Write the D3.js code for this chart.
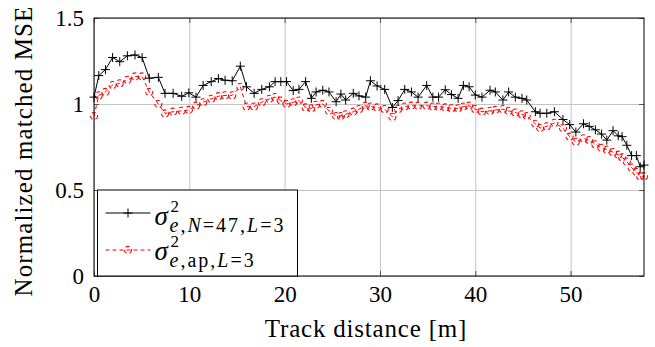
<!DOCTYPE html>
<html>
<head>
<meta charset="utf-8">
<script src="https://cdn.jsdelivr.net/npm/d3@7"></script>
<style>
  body { margin: 0; }
  #mseFig text, #mseFig tspan { font-family: 'Liberation Serif' !important; }
</style>
</head>
<body>
<svg id="mseFig" width="655" height="347"></svg>
<script>
// track positions (m)
var trackX = [0.0, 0.5, 1.2, 1.95, 2.7, 3.5, 4.3, 5.05, 5.8, 6.75, 7.45, 8.3, 9.2, 9.95,
  10.7, 11.45, 12.3, 13.05, 13.75, 14.5, 15.35, 16.0, 16.8, 17.6, 18.4, 19.0, 19.6, 20.2,
  20.9, 21.5, 22.2, 22.8, 23.3, 24.0, 24.65, 25.4, 25.9, 26.4, 27.2, 27.8, 28.5, 29.0,
  29.7, 30.5, 31.3, 31.9, 32.6, 33.3, 34.0, 34.9, 35.55, 36.15, 36.85, 37.5, 38.2, 38.75,
  39.35, 40.0, 40.7, 41.55, 42.1, 42.9, 43.5, 44.2, 44.9, 45.4, 46.3, 46.8, 47.5, 48.3,
  49.2, 49.9, 50.55, 51.35, 51.95, 52.6, 53.25, 53.8, 54.45, 55.0, 55.4, 55.9, 56.4,
  56.9, 57.3, 57.7];

// sigma^2_{e,N=47,L=3}
var mseN47 = [1.04, 1.165, 1.20, 1.27, 1.246, 1.28, 1.285, 1.27, 1.15, 1.155, 1.062, 1.062, 1.045, 1.065,
  1.04, 1.108, 1.13, 1.148, 1.138, 1.135, 1.22, 1.10, 1.062, 1.085, 1.10, 1.13, 1.13, 1.13,
  1.078, 1.085, 1.13, 1.033, 1.07, 1.08, 1.07, 1.013, 1.058, 1.023, 1.062, 1.047, 1.04, 1.135,
  1.105, 1.085, 0.98, 1.02, 1.085, 1.07, 1.04, 1.108, 1.04, 1.04, 1.083, 1.055, 1.033, 1.108,
  1.10, 1.052, 1.04, 1.08, 1.07, 1.023, 1.07, 1.04, 1.033, 1.023, 0.955, 0.946, 0.946, 0.955,
  0.91, 0.88, 0.837, 0.885, 0.87, 0.85, 0.825, 0.79, 0.845, 0.815, 0.81, 0.76, 0.70,
  0.70, 0.635, 0.645];

// sigma^2_{e,ap,L=3}
var mseAp = [0.93, 1.05, 1.07, 1.11, 1.12, 1.14, 1.16, 1.16, 1.07, 1.0, 0.945, 0.955, 0.96, 0.965,
  0.99, 1.01, 1.03, 1.045, 1.05, 1.05, 1.10, 0.985, 0.985, 1.01, 1.03, 1.04, 1.02, 1.0,
  1.01, 1.02, 0.98, 0.975, 0.995, 1.0, 0.96, 0.93, 0.93, 0.94, 0.955, 0.97, 0.99, 0.985,
  0.98, 0.97, 0.925, 0.97, 0.985, 0.99, 0.99, 0.99, 0.985, 0.985, 0.98, 0.975, 0.975, 0.985,
  0.99, 0.97, 0.955, 0.96, 0.965, 0.97, 0.96, 0.95, 0.94, 0.93, 0.885, 0.86, 0.87, 0.89,
  0.86, 0.81, 0.78, 0.80, 0.79, 0.765, 0.745, 0.735, 0.72, 0.705, 0.69, 0.665, 0.63,
  0.605, 0.58, 0.58];

var xTicks = [0, 10, 20, 30, 40, 50];
var yTicks = [0, 0.5, 1, 1.5];

var FONT = "'Liberation Serif'";

var svg = d3.select('#mseFig').attr('font-family', FONT);
var margin = {top: 18, right: 11, bottom: 71, left: 94};
var W = 655 - margin.left - margin.right;
var H = 347 - margin.top - margin.bottom;

var x = d3.scaleLinear().domain([0, 57.7]).range([0, W]);
var y = d3.scaleLinear().domain([0, 1.5]).range([H, 0]);

var g = svg.append('g').attr('transform', 'translate(' + margin.left + ',' + margin.top + ')');

// grid
g.append('g').attr('transform', 'translate(0,' + H + ')')
  .call(d3.axisBottom(x).tickValues(xTicks).tickSize(-H).tickFormat(''))
  .call(function(s){ s.select('.domain').remove(); s.selectAll('line').attr('stroke', '#c4c4c4'); });
g.append('g')
  .call(d3.axisLeft(y).tickValues(yTicks).tickSize(-W).tickFormat(''))
  .call(function(s){ s.select('.domain').remove(); s.selectAll('line').attr('stroke', '#c4c4c4'); });

// axes (ticks inside, pgfplots style)
var fmt = function(d){ return String(d); };
var xAx = g.append('g').attr('transform', 'translate(0,' + H + ')')
  .call(d3.axisBottom(x).tickValues(xTicks).tickSizeInner(-5).tickSizeOuter(0).tickPadding(10).tickFormat(fmt));
var xTop = g.append('g')
  .call(d3.axisTop(x).tickValues(xTicks).tickSizeInner(-5).tickSizeOuter(0).tickFormat(''));
var yAx = g.append('g')
  .call(d3.axisLeft(y).tickValues(yTicks).tickSizeInner(-5).tickSizeOuter(0).tickPadding(10).tickFormat(fmt));
var yRight = g.append('g').attr('transform', 'translate(' + W + ',0)')
  .call(d3.axisRight(y).tickValues(yTicks).tickSizeInner(-5).tickSizeOuter(0).tickFormat(''));
[xAx, xTop, yAx, yRight].forEach(function(a){
  a.select('.domain').remove();
  a.attr('font-family', FONT).attr('font-size', 23);
  a.selectAll('line').attr('stroke', '#555');
  a.selectAll('text').attr('fill', '#000');
});
yAx.selectAll('text').attr('dy', '0.34em');

var pts1 = trackX.map(function(t, i){ return [t, mseN47[i]]; });
var pts2 = trackX.map(function(t, i){ return [t, mseAp[i]]; });
var line = d3.line().x(function(d){ return x(d[0]); }).y(function(d){ return y(d[1]); });

// red dashed series with dashed circle marks
g.append('path').datum(pts2).attr('d', line)
  .attr('fill', 'none').attr('stroke', '#ff0000').attr('stroke-width', 1)
  .attr('stroke-dasharray', '4,3');
g.selectAll('.mk2').data(pts2).enter().append('circle')
  .attr('cx', function(d){ return x(d[0]); }).attr('cy', function(d){ return y(d[1]); })
  .attr('r', 3.6).attr('fill', 'none').attr('stroke', '#ff0000').attr('stroke-width', 1.1)
  .attr('stroke-dasharray', '4,3');

// black series with + marks
g.append('path').datum(pts1).attr('d', line)
  .attr('fill', 'none').attr('stroke', '#000').attr('stroke-width', 1);
var plus = function(sel, s){
  sel.append('path')
    .attr('d', 'M' + (-s) + ',0H' + s + 'M0,' + (-s) + 'V' + s)
    .attr('stroke', '#000').attr('stroke-width', 1).attr('fill', 'none');
};
g.selectAll('.mk1').data(pts1).enter().append('g')
  .attr('transform', function(d){ return 'translate(' + x(d[0]) + ',' + y(d[1]) + ')'; })
  .call(plus, 4.5);

// frame
g.append('rect').attr('width', W).attr('height', H)
  .attr('fill', 'none').attr('stroke', '#000').attr('stroke-width', 1);

// legend
var lg = svg.append('g').attr('transform', 'translate(97.5,190)');
lg.append('rect').attr('width', 200).attr('height', 86)
  .attr('fill', '#fff').attr('stroke', '#000').attr('stroke-width', 1);
lg.append('line').attr('x1', 8).attr('x2', 53).attr('y1', 23).attr('y2', 23)
  .attr('stroke', '#000').attr('stroke-width', 1);
lg.append('g').attr('transform', 'translate(30.5,23)').call(plus, 4.5);
lg.append('line').attr('x1', 8).attr('x2', 53).attr('y1', 60).attr('y2', 60)
  .attr('stroke', '#ff0000').attr('stroke-width', 1).attr('stroke-dasharray', '4,3');
lg.append('circle').attr('cx', 30.5).attr('cy', 60).attr('r', 3.6)
  .attr('fill', 'none').attr('stroke', '#ff0000').attr('stroke-width', 1.1).attr('stroke-dasharray', '4,3');

// one text per entry: sigma, superscript 2, subscript
function legendLabel(base, parts){
  var t = lg.append('text').attr('x', 57).attr('y', base);
  t.append('tspan').text('σ').attr('font-size', 27).attr('font-style', 'italic');
  t.append('tspan').attr('x', 73).attr('y', base - 13).text('2').attr('font-size', 17);
  parts.forEach(function(p, i){
    var ts = t.append('tspan').text(p[0]).attr('font-size', 20)
      .attr('letter-spacing', 2).attr('font-style', p[1] ? 'italic' : 'normal');
    if (i === 0) ts.attr('x', 72).attr('y', base + 7);
  });
}
legendLabel(35, [['e', 1], [',', 0], ['N', 1], ['=47,', 0], ['L', 1], ['=3', 0]]);
legendLabel(70, [['e', 1], [',ap,', 0], ['L', 1], ['=3', 0]]);

// axis titles
svg.append('text').attr('x', margin.left + W / 2 - 3).attr('y', 337)
  .attr('text-anchor', 'middle').attr('font-size', 25)
  .attr('letter-spacing', 0.8).text('Track distance [m]');
svg.append('text').attr('transform', 'translate(32,' + 151 + ') rotate(-90)')
  .attr('text-anchor', 'middle').attr('font-size', 25)
  .attr('letter-spacing', 1.1).text('Normalized matched MSE');
</script>
</body>
</html>
